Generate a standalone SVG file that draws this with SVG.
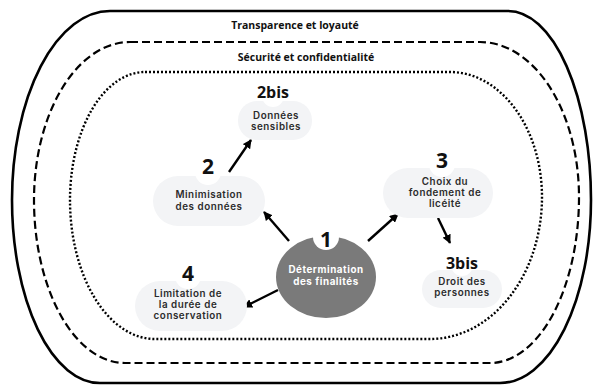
<svg xmlns="http://www.w3.org/2000/svg" width="593" height="388" viewBox="0 0 593 388">
<style>
.ring{fill:none;stroke:#000}
.title{font-family:"Open Sans","Liberation Sans",sans-serif;font-weight:700;font-size:10.5px;fill:#111;text-anchor:middle}
.num{font-family:"Open Sans","Liberation Sans",sans-serif;font-weight:700;fill:#111;text-anchor:middle}
.lbl{font-family:Inter,"Liberation Sans",sans-serif;font-weight:600;font-size:9.8px;letter-spacing:0.55px;fill:#2b2b2b;text-anchor:middle}
.lblw{font-family:Inter,"Liberation Sans",sans-serif;font-weight:700;font-size:9.8px;letter-spacing:0.55px;fill:#fff;text-anchor:middle}
.blob{fill:#f3f4f6}
.notch{fill:#fff}
.arrow{stroke:#000;stroke-width:2.4;fill:none;marker-end:url(#ah)}
</style>
<defs>
<marker id="ah" viewBox="0 0 10 10" refX="9" refY="5" markerWidth="9" markerHeight="9" markerUnits="userSpaceOnUse" orient="auto">
<path d="M0,0 L10,5 L0,10 Z" fill="#000"/>
</marker>
</defs>
<rect width="593" height="388" fill="#fff"/>
<g id="rings">
<path class="ring" stroke-width="2.6" d="M110,11 H508 A83,189 0 0 1 591,200 A91,183 0 0 1 500,383 H100 A88,183 0 0 1 12,200 A98,189 0 0 1 110,11 Z"/>
<path class="ring" stroke-width="2.2" stroke-dasharray="8,4" d="M130,42 H480 A99,155 0 0 1 579,197 A89,166 0 0 1 490,363 H125 A91,163 0 0 1 34,200 A96,158 0 0 1 130,42 Z"/>
<path class="ring" stroke-width="2.4" stroke-dasharray="2,2" d="M145,72 H450 A92,125 0 0 1 542,197 A112,142 0 0 1 430,339 H155 A85,139 0 0 1 70,200 A75,128 0 0 1 145,72 Z"/>
<text class="title" x="295" y="29">Transparence et loyauté</text>
<text class="title" x="306" y="61">Sécurité et confidentialité</text>
</g>
<g id="connectors">
<line class="arrow" x1="289" y1="241" x2="264" y2="212"/>
<line class="arrow" x1="229" y1="172" x2="251" y2="140"/>
<line class="arrow" x1="368" y1="241" x2="398" y2="214"/>
<line class="arrow" x1="438" y1="218" x2="450" y2="243"/>
<line class="arrow" x1="278" y1="290" x2="244" y2="307"/>
</g>
<g id="node-1">
<ellipse cx="326" cy="277" rx="50" ry="41" fill="#7a7a7a"/>
<circle class="notch" cx="326" cy="237" r="13"/>
<text class="num" x="326" y="247" font-size="21">1</text>
<text class="lblw" x="326" y="273">Détermination</text>
<text class="lblw" x="326" y="285">des finalités</text>
</g>
<g id="node-2">
<rect class="blob" x="153" y="176" width="112" height="50" rx="25"/>
<circle class="notch" cx="208" cy="172" r="13"/>
<text class="num" x="208" y="174" font-size="21">2</text>
<text class="lbl" x="209" y="198">Minimisation</text>
<text class="lbl" x="209" y="210">des données</text>
</g>
<g id="node-2bis">
<rect class="blob" x="238" y="101" width="74" height="39" rx="19"/>
<circle class="notch" cx="273" cy="96" r="11"/>
<text class="num" x="273" y="98" font-size="16">2bis</text>
<text class="lbl" x="276" y="119">Données</text>
<text class="lbl" x="276" y="130">sensibles</text>
</g>
<g id="node-3">
<rect class="blob" x="383" y="168" width="110" height="50" rx="25"/>
<circle class="notch" cx="442" cy="164" r="13"/>
<text class="num" x="442" y="168" font-size="21">3</text>
<text class="lbl" x="445" y="185">Choix du</text>
<text class="lbl" x="445" y="196">fondement de</text>
<text class="lbl" x="445" y="207">licéité</text>
</g>
<g id="node-3bis">
<rect class="blob" x="422" y="270" width="80" height="38" rx="19"/>
<circle class="notch" cx="462" cy="265" r="11"/>
<text class="num" x="462" y="269" font-size="16">3bis</text>
<text class="lbl" x="462" y="285">Droit des</text>
<text class="lbl" x="462" y="296">personnes</text>
</g>
<g id="node-4">
<rect class="blob" x="135" y="281" width="112" height="50" rx="25"/>
<circle class="notch" cx="188" cy="276" r="13"/>
<text class="num" x="188" y="281" font-size="21">4</text>
<text class="lbl" x="188" y="297">Limitation de</text>
<text class="lbl" x="188" y="308">la durée de</text>
<text class="lbl" x="188" y="319">conservation</text>
</g>
</svg>
